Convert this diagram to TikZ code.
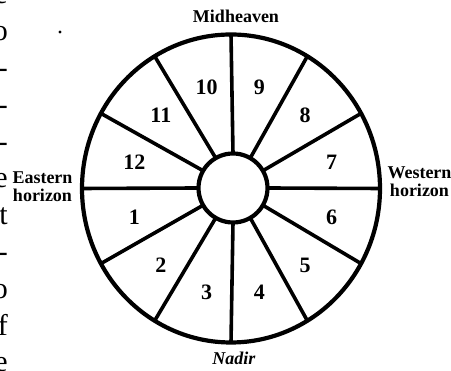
\documentclass[tikz,border=0pt]{standalone}
\usepackage{fontspec}
\setmainfont{Liberation Serif}
\usetikzlibrary{shapes.geometric}

\begin{document}
\begin{tikzpicture}[
  x=1pt, y=1pt,
  rim/.style={draw, ellipse, line width=4.2pt, inner sep=0pt, outer sep=0pt, minimum width=298pt, minimum height=308pt},
  hub/.style={draw, circle, fill=white, line width=4.2pt, inner sep=0pt, outer sep=0pt, minimum size=69pt},
  spoke/.style={line width=3.6pt},
  house/.style={font=\fontsize{22}{22}\selectfont\bfseries},
  pole/.style={align=center, inner sep=0pt, font=\fontsize{18}{18}\selectfont\bfseries},
  margin/.style={anchor=base east, inner sep=0pt, font=\fontsize{30}{30}\selectfont}
]
\useasboundingbox (0,0) rectangle (451,371);

% the wheel
\node[rim] (wheel) at (231,182.5) {};
\node[hub] (centre) at (233,183) {};
\foreach \a in {0,30,...,330}
  \draw[spoke] (centre.\a) -- (wheel.\a);

% houses
\foreach \n in {1,...,12} {
  \pgfmathsetmacro\ang{195+30*(\n-1)}
  \node[house] (h\n) at ([shift={(\ang:102 and 106)}] 233,181) {\n};
}

% angles
\node[pole] (mid) at (236,355) {Midheaven};
\node[pole, font=\fontsize{18}{18}\selectfont\bfseries\itshape] (nadir) at (234,13) {Nadir};
\node[pole] (east) at (42.5,184) {Eastern\\horizon};
\node[pole] (west) at (419.5,189.5) {Western\\horizon};

% cut-off text of the page
\foreach \ch [count=\i from 0] in {e,o,-,-,-,e,t,-,o,f,e}
  \node[margin] (m\i) at (8,{367-36.8*\i}) {\ch};
\fill (60,339) circle (1.6);
\end{tikzpicture}
\end{document}
